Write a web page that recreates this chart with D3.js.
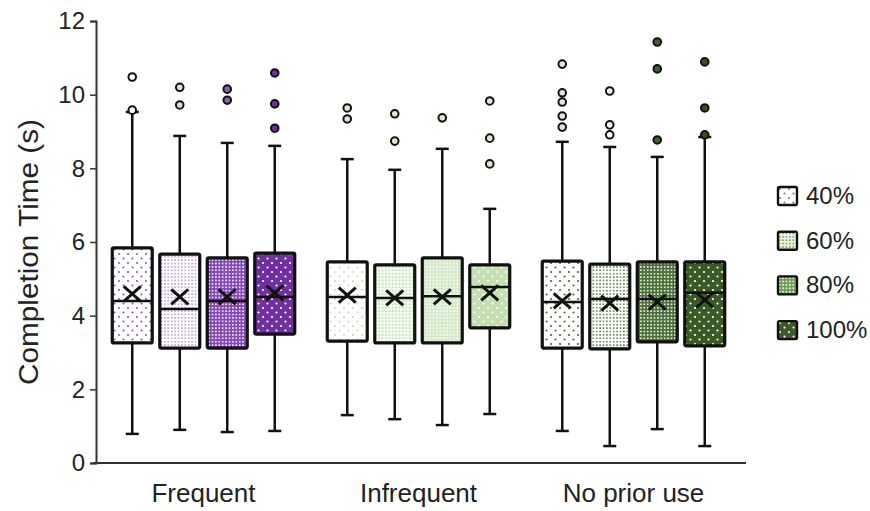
<!DOCTYPE html>
<html>
<head>
<meta charset="utf-8">
<script src="https://cdn.jsdelivr.net/npm/d3@7"></script>
<style>
  body { margin: 0; background: #fff; }
  svg { display: block; font-family: "Liberation Sans", Arial, sans-serif; }
</style>
</head>
<body>
<svg id="viz"></svg>
<script>
// groups on the x axis, levels inside each group
const groups = ["Frequent", "Infrequent", "No prior use"];
const levels = ["40%", "60%", "80%", "100%"];
const yTicks = [0, 2, 4, 6, 8, 10, 12];

// one row per group, one column per level (seconds)
const whiskerLow = [
    [0.79, 0.90, 0.84, 0.87],
    [1.30, 1.19, 1.03, 1.33],
    [0.87, 0.46, 0.92, 0.46]
];
const q1 = [
    [3.26, 3.12, 3.12, 3.50],
    [3.31, 3.26, 3.26, 3.67],
    [3.12, 3.10, 3.29, 3.18]
];
const median = [
    [4.40, 4.18, 4.40, 4.51],
    [4.51, 4.48, 4.53, 4.78],
    [4.37, 4.45, 4.45, 4.62]
];
const q3 = [
    [5.84, 5.67, 5.57, 5.70],
    [5.46, 5.38, 5.57, 5.38],
    [5.48, 5.40, 5.46, 5.46]
];
const whiskerHigh = [
    [9.53, 8.88, 8.69, 8.61],
    [8.25, 7.96, 8.53, 6.90],
    [8.72, 8.58, 8.31, 8.85]
];
const mean = [
    [4.59, 4.51, 4.51, 4.62],
    [4.56, 4.48, 4.51, 4.62],
    [4.40, 4.34, 4.37, 4.43]
];
const outliers = [
    [[10.48, 9.58], [10.20, 9.72], [10.15, 9.85], [10.59, 9.75, 9.09]],
    [[9.64, 9.34], [9.48, 8.74], [9.37], [9.83, 8.82, 8.12]],
    [[10.83, 10.05, 9.80, 9.42, 9.12], [10.10, 9.18, 8.91], [11.43, 10.70, 8.77], [10.89, 9.64, 8.91]]
];

// fill styles: [background, dot colour, dense?]
const fills = [
    [["#ffffff", "#8c5fb8", false], ["#ffffff", "#b896d8", true], ["#8347b6", "#ffffff", true], ["#7030a0", "#ffffff", false]],
    [["#ffffff", "#c6dfb6", false], ["#f4faf0", "#bcdaa8", true], ["#d5eac8", "#ffffff", true], ["#c4e0b2", "#ffffff", false]],
    [["#ffffff", "#4e6b3a", false], ["#ffffff", "#557a40", true], ["#4a6f35", "#ffffff", true], ["#3a5b27", "#ffffff", false]]
];
const outlierFill = [
    ["#ffffff", "#e4d6f0", "#8c5fb8", "#6f2f9f"],
    ["#d8ebcc", "#d8ebcc", "#d8ebcc", "#d8ebcc"],
    ["#dfe6d9", "#ffffff", "#3f6030", "#34521f"]
];
const legendFills = [["#ffffff", "#7a8a70", false], ["#e8f3e0", "#6f9a55", true], ["#6e9c55", "#ffffff", true], ["#3a5b27", "#ffffff", false]];

const width = 870, height = 511;
const margin = { top: 21, right: 129, bottom: 48, left: 96 };

const svg = d3.select("#viz")
    .attr("width", width)
    .attr("height", height)
    .attr("viewBox", [0, 0, width, height]);

const defs = svg.append("defs");

function addPattern(id, f) {
    const [bg, dot, dense] = f;
    const s = dense ? 3.4 : 9;
    const p = defs.append("pattern")
        .attr("id", id)
        .attr("patternUnits", "userSpaceOnUse")
        .attr("width", s)
        .attr("height", s);
    p.append("rect").attr("width", s).attr("height", s).attr("fill", bg);
    if (dense) {
        p.append("circle").attr("cx", s / 2).attr("cy", s / 2).attr("r", 0.95).attr("fill", dot);
    } else {
        p.append("circle").attr("cx", 2).attr("cy", 2).attr("r", 1.1).attr("fill", dot);
        p.append("circle").attr("cx", 6.5).attr("cy", 6.5).attr("r", 1.1).attr("fill", dot);
    }
}

fills.forEach((row, g) => row.forEach((f, l) => addPattern(`pat-${g}-${l}`, f)));
legendFills.forEach((f, l) => addPattern(`leg-${l}`, f));

const y = d3.scaleLinear()
    .domain([0, 12])
    .range([height - margin.bottom, margin.top]);

const x0 = d3.scaleBand()
    .domain(groups)
    .range([margin.left, 741])
    .paddingInner(25 / 215)
    .paddingOuter(12.5 / 215);

const x1 = d3.scaleBand()
    .domain(levels)
    .range([0, x0.bandwidth()])
    .paddingInner(0.095)
    .paddingOuter(0.0475);

// y axis
const yAxis = svg.append("g")
    .attr("transform", `translate(${margin.left},0)`)
    .call(d3.axisLeft(y).tickValues(yTicks).tickSize(6).tickPadding(5).tickFormat(d3.format("d")));
yAxis.select(".domain").attr("stroke", "#333").attr("stroke-width", 2);
yAxis.selectAll(".tick line").attr("stroke", "#333").attr("stroke-width", 1.5);
yAxis.selectAll(".tick text")
    .attr("font-size", 24)
    .attr("fill", "#222");

svg.append("text")
    .attr("transform", `translate(38,${(y(0) + y(12)) / 2 + 10}) rotate(-90)`)
    .attr("text-anchor", "middle")
    .attr("font-size", 27)
    .attr("textLength", 266)
    .attr("lengthAdjust", "spacingAndGlyphs")
    .attr("fill", "#222")
    .text("Completion Time (s)");

// x baseline and group labels
svg.append("line")
    .attr("x1", margin.left - 3)
    .attr("x2", 746)
    .attr("y1", y(0))
    .attr("y2", y(0))
    .attr("stroke", "#333")
    .attr("stroke-width", 2);

svg.append("g").selectAll("text")
    .data(groups)
    .join("text")
    .attr("x", d => x0(d) + x0.bandwidth() / 2)
    .attr("y", 502)
    .attr("text-anchor", "middle")
    .attr("font-size", 26)
    .attr("fill", "#222")
    .text(d => d);

// flat list of boxes
const boxes = [];
groups.forEach((g, gi) => levels.forEach((l, li) => {
    boxes.push({
        group: g, level: l, gi, li,
        lo: whiskerLow[gi][li], q1: q1[gi][li], med: median[gi][li],
        q3: q3[gi][li], hi: whiskerHigh[gi][li], mean: mean[gi][li],
        out: outliers[gi][li]
    });
}));

const bw = x1.bandwidth();
const cx = d => x0(d.group) + x1(d.level) + bw / 2;

const box = svg.append("g").selectAll("g")
    .data(boxes)
    .join("g");

// whiskers
box.append("line")
    .attr("x1", cx).attr("x2", cx)
    .attr("y1", d => y(d.hi)).attr("y2", d => y(d.q3))
    .attr("stroke", "#111").attr("stroke-width", 2.5);
box.append("line")
    .attr("x1", cx).attr("x2", cx)
    .attr("y1", d => y(d.q1)).attr("y2", d => y(d.lo))
    .attr("stroke", "#111").attr("stroke-width", 2.5);
box.append("line")
    .attr("x1", d => cx(d) - 6.5).attr("x2", d => cx(d) + 6.5)
    .attr("y1", d => y(d.hi)).attr("y2", d => y(d.hi))
    .attr("stroke", "#111").attr("stroke-width", 2.5);
box.append("line")
    .attr("x1", d => cx(d) - 6.5).attr("x2", d => cx(d) + 6.5)
    .attr("y1", d => y(d.lo)).attr("y2", d => y(d.lo))
    .attr("stroke", "#111").attr("stroke-width", 2.5);

// box
box.append("rect")
    .attr("x", d => x0(d.group) + x1(d.level) + 1.5)
    .attr("width", bw - 3)
    .attr("y", d => y(d.q3))
    .attr("height", d => y(d.q1) - y(d.q3))
    .attr("fill", d => `url(#pat-${d.gi}-${d.li})`)
    .attr("stroke", "#111")
    .attr("stroke-width", 3.2)
    .attr("rx", 1.5);

// median
box.append("line")
    .attr("x1", d => x0(d.group) + x1(d.level) + 1.5)
    .attr("x2", d => x0(d.group) + x1(d.level) + bw - 1.5)
    .attr("y1", d => y(d.med)).attr("y2", d => y(d.med))
    .attr("stroke", "#111").attr("stroke-width", 2.5);

// mean cross
box.append("path")
    .attr("d", d => {
        const X = cx(d), Y = y(d.mean);
        return `M${X - 8.5},${Y - 7.5}L${X + 8.5},${Y + 7.5}M${X - 8.5},${Y + 7.5}L${X + 8.5},${Y - 7.5}`;
    })
    .attr("stroke", "#111").attr("stroke-width", 3).attr("fill", "none");

// outliers
box.selectAll("circle")
    .data(d => d.out.map(v => ({ v, d })))
    .join("circle")
    .attr("cx", o => cx(o.d))
    .attr("cy", o => y(o.v))
    .attr("r", 3.8)
    .attr("fill", o => outlierFill[o.d.gi][o.d.li])
    .attr("stroke", "#111")
    .attr("stroke-width", 2);

// legend
const legend = svg.append("g")
    .attr("transform", "translate(778,187)")
    .selectAll("g")
    .data(levels)
    .join("g")
    .attr("transform", (d, i) => `translate(0,${i * 44.7})`);

legend.append("rect")
    .attr("width", 19).attr("height", 18)
    .attr("fill", (d, i) => `url(#leg-${i})`)
    .attr("stroke", "#111").attr("stroke-width", 2.4)
    .attr("rx", 1.5);

legend.append("text")
    .attr("x", 28)
    .attr("y", 17)
    .attr("font-size", 24)
    .attr("fill", "#222")
    .text(d => d);
</script>
</body>
</html>
